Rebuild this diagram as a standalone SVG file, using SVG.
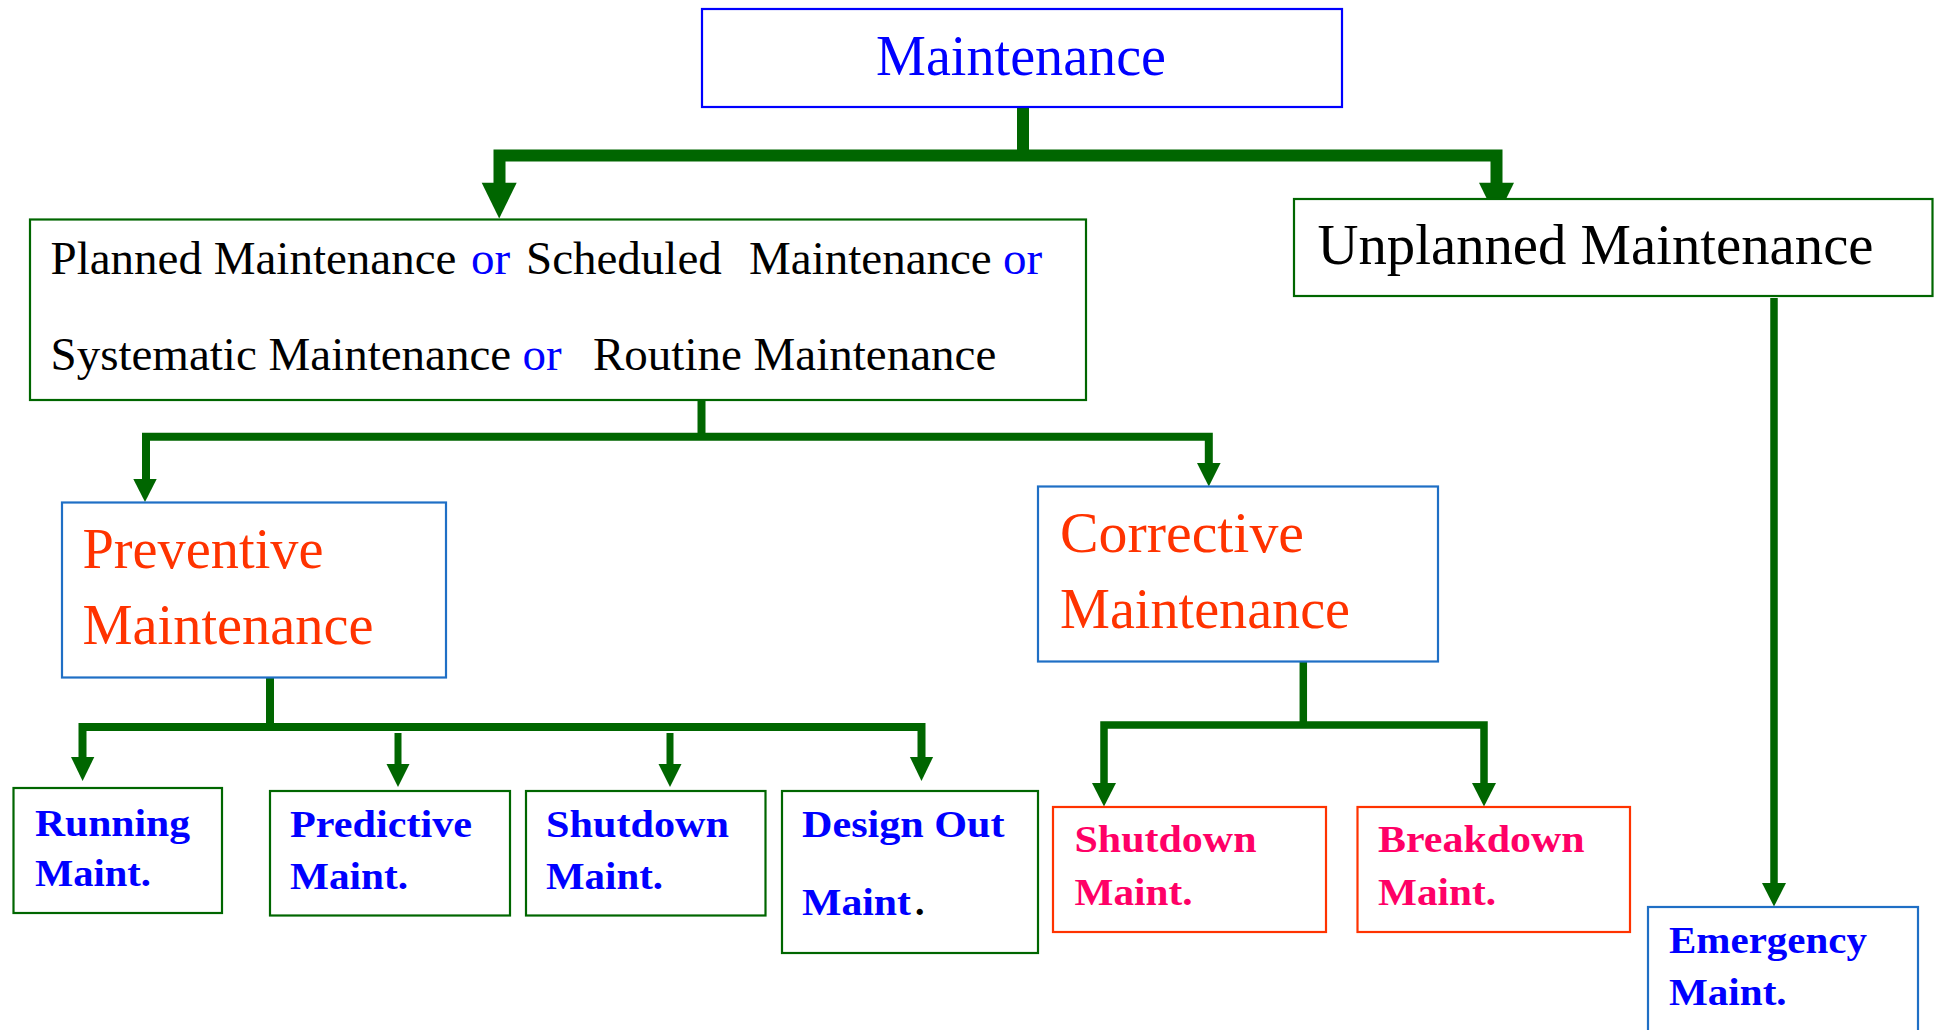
<svg xmlns="http://www.w3.org/2000/svg" width="1934" height="1030" viewBox="0 0 1934 1030">
<style>
.bg{fill:#ffffff}
.box{fill:#ffffff;stroke-width:2.2}
.g{stroke:#006600}
.b{stroke:#0000FF}
.sb{stroke:#1F6FC5}
.r{stroke:#FF3300}
.ln{fill:none;stroke:#006600;stroke-linejoin:miter;stroke-linecap:butt}
.hd{fill:#006600}
.t{font-family:"Liberation Serif","Times New Roman",serif}
.big{font-size:56px}
.pl{font-size:47px;fill:#000}
.sm{font-size:38px;font-weight:bold}
.blue{fill:#0000FF}
.red{fill:#FF3300}
.pink{fill:#FF0066}
.blk{fill:#000000}
</style>
<rect class="bg" x="0" y="0" width="1934" height="1030"/>
<g id="connectors">
<path class="ln" d="M1023,106 V156" stroke-width="12"/>
<path class="ln" d="M499.5,184 V155.5 H1496.5 V184" stroke-width="12"/>
<polygon class="hd" points="481.7,182.7 516.7,182.7 499.2,218.5"/>
<polygon class="hd" points="1479,182.7 1514,182.7 1496.5,218.5"/>
<path class="ln" d="M701.5,400 V437" stroke-width="8"/>
<path class="ln" d="M146,480 V436.7 H1208.8 V464" stroke-width="8"/>
<polygon class="hd" points="133.3,479 156.7,479 145,502"/>
<polygon class="hd" points="1197,463 1220.6,463 1208.8,486.5"/>
<path class="ln" d="M270,677 V727" stroke-width="8"/>
<path class="ln" d="M82.5,758 V727 H921.5 V758" stroke-width="8"/>
<polygon class="hd" points="71,757 94.3,757 82.6,781"/>
<polygon class="hd" points="909.9,757 933.1,757 921.5,781"/>
<path class="ln" d="M398,733 V765" stroke-width="7"/>
<polygon class="hd" points="386.5,764 409.5,764 398,787"/>
<path class="ln" d="M670,733 V765" stroke-width="7"/>
<polygon class="hd" points="658.5,764 681.5,764 670,787"/>
<path class="ln" d="M1303.3,662 V725" stroke-width="7.5"/>
<path class="ln" d="M1104,784 V725 H1484 V784" stroke-width="7.5"/>
<polygon class="hd" points="1092,783 1116,783 1104,806.5"/>
<polygon class="hd" points="1472,783 1496,783 1484,806.5"/>
<path class="ln" d="M1774,298 V884" stroke-width="7.5"/>
<polygon class="hd" points="1762,883 1786,883 1774,906.5"/>
</g>
<g id="maintenance">
<rect class="box b" x="702" y="9" width="640" height="98"/>
<text class="t big blue" x="876" y="75" textLength="290" lengthAdjust="spacingAndGlyphs">Maintenance</text>
</g>
<g id="planned">
<rect class="box g" x="30" y="219.5" width="1056" height="180.5"/>
<text class="t pl" y="274"><tspan x="50.5">Planned Maintenance</tspan><tspan x="471" class="blue">or</tspan><tspan x="526">Scheduled</tspan><tspan x="749">Maintenance</tspan><tspan x="1003" class="blue">or</tspan></text>
<text class="t pl" y="370"><tspan x="50.5">Systematic Maintenance</tspan><tspan x="522.6" class="blue">or</tspan><tspan x="593">Routine Maintenance</tspan></text>
</g>
<g id="unplanned">
<rect class="box g" x="1294" y="199" width="638.5" height="97"/>
<text class="t blk" style="font-size:57px" x="1317.5" y="264" textLength="556" lengthAdjust="spacingAndGlyphs">Unplanned Maintenance</text>
</g>
<g id="preventive">
<rect class="box sb" x="62" y="502.5" width="384" height="175"/>
<text class="t big red" x="82.5" y="568" textLength="241" lengthAdjust="spacingAndGlyphs">Preventive</text>
<text class="t big red" x="82.5" y="644" textLength="291" lengthAdjust="spacingAndGlyphs">Maintenance</text>
</g>
<g id="corrective">
<rect class="box sb" x="1038" y="486.5" width="400" height="175"/>
<text class="t big red" x="1060" y="552" textLength="244" lengthAdjust="spacingAndGlyphs">Corrective</text>
<text class="t big red" x="1060" y="628" textLength="290" lengthAdjust="spacingAndGlyphs">Maintenance</text>
</g>
<g id="running">
<rect class="box g" x="13.5" y="788" width="208.5" height="125"/>
<text class="t sm blue" x="35" y="836" textLength="155" lengthAdjust="spacingAndGlyphs">Running</text>
<text class="t sm blue" x="35" y="886" textLength="116" lengthAdjust="spacingAndGlyphs">Maint.</text>
</g>
<g id="predictive">
<rect class="box g" x="270" y="791" width="240" height="124.5"/>
<text class="t sm blue" x="290" y="837" textLength="182" lengthAdjust="spacingAndGlyphs">Predictive</text>
<text class="t sm blue" x="290" y="889" textLength="118" lengthAdjust="spacingAndGlyphs">Maint.</text>
</g>
<g id="shutdown-prev">
<rect class="box g" x="526" y="791" width="239.5" height="124.5"/>
<text class="t sm blue" x="546" y="837" textLength="183" lengthAdjust="spacingAndGlyphs">Shutdown</text>
<text class="t sm blue" x="546" y="889" textLength="117" lengthAdjust="spacingAndGlyphs">Maint.</text>
</g>
<g id="design-out">
<rect class="box g" x="782" y="791" width="256" height="162"/>
<text class="t sm blue" x="802" y="837" textLength="202.5" lengthAdjust="spacingAndGlyphs">Design Out</text>
<text class="t sm" y="915"><tspan class="blue" x="802" textLength="109" lengthAdjust="spacingAndGlyphs">Maint</tspan><tspan class="blk" x="915">.</tspan></text>
</g>
<g id="shutdown-corr">
<rect class="box r" x="1053" y="807" width="273" height="125"/>
<text class="t sm pink" x="1074.5" y="852" textLength="182" lengthAdjust="spacingAndGlyphs">Shutdown</text>
<text class="t sm pink" x="1074.5" y="905" textLength="118" lengthAdjust="spacingAndGlyphs">Maint.</text>
</g>
<g id="breakdown">
<rect class="box r" x="1357.5" y="807" width="272.5" height="125"/>
<text class="t sm pink" x="1378" y="852" textLength="206.6" lengthAdjust="spacingAndGlyphs">Breakdown</text>
<text class="t sm pink" x="1378" y="905" textLength="118" lengthAdjust="spacingAndGlyphs">Maint.</text>
</g>
<g id="emergency">
<rect class="box sb" x="1648" y="907" width="270" height="130"/>
<text class="t sm blue" x="1669" y="952.5" textLength="198" lengthAdjust="spacingAndGlyphs">Emergency</text>
<text class="t sm blue" x="1669" y="1005" textLength="117.6" lengthAdjust="spacingAndGlyphs">Maint.</text>
</g>
</svg>
